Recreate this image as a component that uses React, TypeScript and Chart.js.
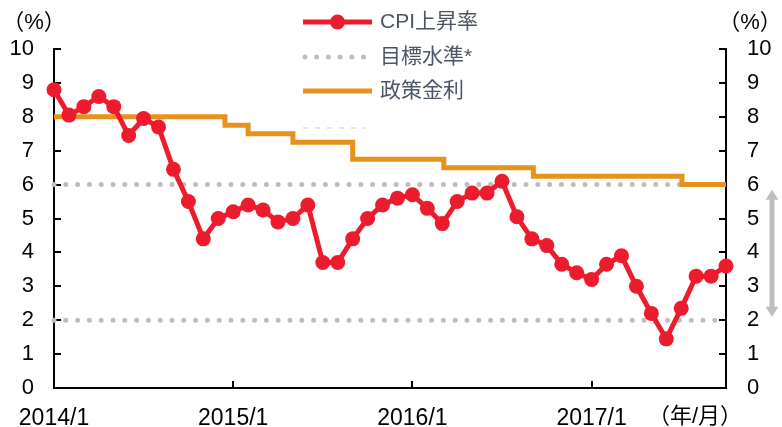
import React, { useEffect, useRef } from "react";
import { Chart, registerables } from "chart.js";

Chart.register(...registerables);

// CPI inflation (% y/y), monthly 2014/1 .. 2017/10
const cpiValues = [
  8.8, 8.05, 8.3, 8.6, 8.3, 7.45, 7.95, 7.7, 6.45, 5.5, 4.4, 5.0,
  5.2, 5.4, 5.25, 4.9, 5.0, 5.4, 3.7, 3.7, 4.4, 5.0, 5.4, 5.6,
  5.7, 5.3, 4.85, 5.5, 5.75, 5.75, 6.1, 5.05, 4.4, 4.2, 3.65, 3.4,
  3.2, 3.65, 3.9, 3.0, 2.2, 1.45, 2.35, 3.3, 3.3, 3.6,
];

// Policy rate: month position (0 = 2014/1) where each level starts
const rateMonths = [0, 11.45, 13, 16, 20, 26.1, 32.1, 42.05, 45];
const rateValues = [8.0, 7.75, 7.5, 7.25, 6.75, 6.5, 6.25, 6.0, 6.0];

// Target band
const targetLevels = [6, 2];
const arrowRange = [5.85, 2.1];

// X-axis ticks
const xTickPositions = [0, 12, 24, 36];
const xTickLabels = ["2014/1", "2015/1", "2016/1", "2017/1"];
const xUnitLabel = "（年/月）";
const yUnitLabel = "（%）";

const legendLabels = ["CPI上昇率", "目標水準*", "政策金利"];

const RED = "#EC1C2E";
const ORANGE = "#E8921E";
const GRAY = "#BEBEBE";
const TEXT = "#4B5664";
const FONT = "'Liberation Sans', 'Noto Sans CJK JP', Arial, sans-serif";

const overlayPlugin = {
  id: "overlay",
  beforeDatasetsDraw(chart: any) {
    const ctx = chart.ctx;
    const { left, right, bottom } = chart.chartArea;
    const ys = chart.scales.y;
    const ys2 = chart.scales.y2;
    const xs = chart.scales.x;
    ctx.save();
    ctx.strokeStyle = "#000";
    ctx.lineWidth = 2;
    ys.ticks.forEach((t: any) => {
      const p = Math.round(ys.getPixelForValue(t.value));
      ctx.beginPath();
      ctx.moveTo(left, p);
      ctx.lineTo(left + 7, p);
      ctx.stroke();
    });
    ys2.ticks.forEach((t: any) => {
      const p = Math.round(ys2.getPixelForValue(t.value));
      ctx.beginPath();
      ctx.moveTo(right, p);
      ctx.lineTo(right - 7, p);
      ctx.stroke();
    });
    xTickPositions.forEach((v) => {
      if (v === 0) return;
      const p = Math.round(xs.getPixelForValue(v));
      ctx.beginPath();
      ctx.moveTo(p, bottom);
      ctx.lineTo(p, bottom - 7);
      ctx.stroke();
    });
    ctx.restore();
  },
  afterDraw(chart: any) {
    const ctx = chart.ctx;
    const { left, right } = chart.chartArea;
    const ys = chart.scales.y;
    ctx.save();
    // unit labels
    ctx.fillStyle = "#000";
    ctx.font = `22px ${FONT}`;
    ctx.textAlign = "center";
    ctx.textBaseline = "middle";
    ctx.fillText(yUnitLabel, left - 20, 23);
    ctx.fillText(yUnitLabel, right + 24, 23);
    ctx.font = `22px ${FONT}`;
    ctx.fillText(xUnitLabel, 695, 417);

    // legend
    const lx0 = 303;
    const lx1 = 372;
    const rows = [22, 57, 91];
    ctx.lineCap = "butt";
    ctx.strokeStyle = RED;
    ctx.lineWidth = 5;
    ctx.beginPath();
    ctx.moveTo(lx0, rows[0]);
    ctx.lineTo(lx1, rows[0]);
    ctx.stroke();
    ctx.fillStyle = RED;
    ctx.beginPath();
    ctx.arc((lx0 + lx1) / 2, rows[0], 7.5, 0, Math.PI * 2);
    ctx.fill();

    ctx.fillStyle = GRAY;
    for (let x = 305; x <= 368; x += 11.7) {
      ctx.beginPath();
      ctx.arc(x, rows[1], 2.5, 0, Math.PI * 2);
      ctx.fill();
    }

    ctx.strokeStyle = ORANGE;
    ctx.lineWidth = 5;
    ctx.beginPath();
    ctx.moveTo(lx0, rows[2]);
    ctx.lineTo(lx1, rows[2]);
    ctx.stroke();

    // faint dashed line under legend
    ctx.strokeStyle = "#DCDCDC";
    ctx.lineWidth = 1.5;
    ctx.setLineDash([5, 7]);
    ctx.beginPath();
    ctx.moveTo(lx0, 128);
    ctx.lineTo(366, 128);
    ctx.stroke();
    ctx.setLineDash([]);

    ctx.fillStyle = TEXT;
    ctx.font = `21px ${FONT}`;
    ctx.textAlign = "left";
    ctx.textBaseline = "middle";
    legendLabels.forEach((l, i) => ctx.fillText(l, 380, rows[i]));

    // double-headed arrow for target band
    const ax = 772;
    const yTop = ys.getPixelForValue(arrowRange[0]);
    const yBot = ys.getPixelForValue(arrowRange[1]);
    const headL = 10;
    const headW = 6.5;
    ctx.fillStyle = GRAY;
    ctx.fillRect(ax - 2.5, yTop + headL - 1, 5, yBot - yTop - 2 * headL + 2);
    ctx.beginPath();
    ctx.moveTo(ax, yTop);
    ctx.lineTo(ax + headW, yTop + headL);
    ctx.lineTo(ax - headW, yTop + headL);
    ctx.closePath();
    ctx.fill();
    ctx.beginPath();
    ctx.moveTo(ax, yBot);
    ctx.lineTo(ax + headW, yBot - headL);
    ctx.lineTo(ax - headW, yBot - headL);
    ctx.closePath();
    ctx.fill();
    ctx.restore();
  },
};

export default function App() {
  const ref = useRef<HTMLCanvasElement | null>(null);

  useEffect(() => {
    document.body.style.margin = "0";
    const canvas = ref.current;
    if (!canvas) return;
    const lastX = cpiValues.length - 1;
    const cpiData = cpiValues.map((v, i) => ({ x: i, y: v }));
    const rateData = rateMonths.map((m, i) => ({ x: m, y: rateValues[i] }));
    const targetSets = targetLevels.map((lv) => ({
      label: "目標水準*",
      data: [
        { x: 0, y: lv },
        { x: lastX, y: lv },
      ],
      borderColor: GRAY,
      borderWidth: 5,
      borderDash: [0, 11.8],
      borderCapStyle: "round" as const,
      pointRadius: 0,
      fill: false,
      clip: false as const,
    }));

    const tickFont = { family: FONT, size: 22 };
    const chart = new Chart(canvas, {
      type: "line",
      data: {
        datasets: [
          {
            label: "CPI上昇率",
            data: cpiData,
            borderColor: RED,
            backgroundColor: RED,
            borderWidth: 5,
            pointRadius: 7.5,
            pointBorderWidth: 0,
            pointBackgroundColor: RED,
            tension: 0,
            clip: false as const,
          },
          {
            label: "政策金利",
            data: rateData,
            borderColor: ORANGE,
            borderWidth: 5,
            stepped: true,
            pointRadius: 0,
            borderCapStyle: "butt" as const,
            clip: false as const,
          },
          ...targetSets,
        ],
      },
      options: {
        responsive: false,
        animation: false,
        devicePixelRatio: 1,
        layout: { padding: { top: 49, left: 0, right: 0, bottom: 0 } },
        plugins: { legend: { display: false }, tooltip: { enabled: false } },
        scales: {
          x: {
            type: "linear",
            min: 0,
            max: lastX,
            afterFit: (s: any) => {
              s.height = 39;
            },
            afterBuildTicks: (s: any) => {
              s.ticks = xTickPositions.map((v) => ({ value: v }));
            },
            ticks: {
              autoSkip: false,
              maxRotation: 0,
              padding: 17,
              color: "#000",
              font: { family: FONT, size: 23 },
              callback: (v: any) => {
                const i = xTickPositions.indexOf(Number(v));
                return i >= 0 ? xTickLabels[i] : "";
              },
            },
            grid: { display: true, drawOnChartArea: false, drawTicks: false },
            border: { display: true, color: "#000", width: 2 },
          },
          y: {
            position: "left",
            min: 0,
            max: 10,
            afterFit: (s: any) => {
              s.width = 54;
            },
            ticks: { stepSize: 1, padding: 20, color: "#000", font: tickFont },
            grid: { display: true, drawOnChartArea: false, drawTicks: false },
            border: { display: true, color: "#000", width: 2 },
          },
          y2: {
            position: "right",
            min: 0,
            max: 10,
            afterFit: (s: any) => {
              s.width = 56;
            },
            ticks: { stepSize: 1, padding: 21, color: "#000", font: tickFont },
            grid: { display: true, drawOnChartArea: false, drawTicks: false },
            border: { display: true, color: "#000", width: 2 },
          },
        },
      },
      plugins: [overlayPlugin],
    } as any);
    return () => chart.destroy();
  }, []);

  return (
    <div style={{ width: 782, height: 427, position: "relative", background: "#fff" }}>
      <canvas ref={ref} width={782} height={427} style={{ display: "block" }} />
    </div>
  );
}
